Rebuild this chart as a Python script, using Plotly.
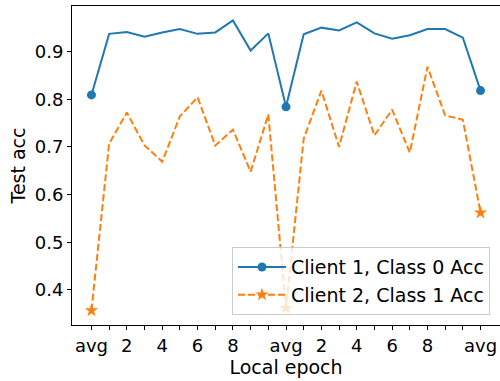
import plotly.graph_objects as go

# x index positions (avg, epochs 1..10, avg, epochs 1..10, avg)
x_idx = list(range(23))
tick_vals = list(range(23))
tick_text = ["avg", "", "2", "", "4", "", "6", "", "8", "", "",
             "avg", "", "2", "", "4", "", "6", "", "8", "", "", "avg"]
avg_idx = [0, 11, 22]

client1_class0 = [0.809, 0.937, 0.941, 0.931, 0.940, 0.947, 0.937, 0.940, 0.965, 0.902, 0.938,
                  0.784, 0.936, 0.950, 0.944, 0.961, 0.938, 0.927, 0.934, 0.947, 0.947, 0.929,
                  0.818]
client2_class1 = [0.357, 0.707, 0.772, 0.703, 0.669, 0.764, 0.804, 0.703, 0.736, 0.648, 0.768,
                  0.362, 0.717, 0.818, 0.700, 0.837, 0.724, 0.778, 0.688, 0.868, 0.766, 0.757,
                  0.562]

BLUE = "#1f77b4"
ORANGE = "#ff7f0e"
FONT = "DejaVu Sans"

fig = go.Figure()

# lines
fig.add_trace(go.Scatter(x=x_idx, y=client1_class0, mode="lines",
                         line=dict(color=BLUE, width=2), showlegend=False, hoverinfo="skip"))
fig.add_trace(go.Scatter(x=x_idx, y=client2_class1, mode="lines",
                         line=dict(color=ORANGE, width=2, dash="7px,3px"), showlegend=False, hoverinfo="skip"))
# markers at avg points
fig.add_trace(go.Scatter(x=[x_idx[i] for i in avg_idx], y=[client1_class0[i] for i in avg_idx],
                         mode="markers", marker=dict(color=BLUE, size=9, symbol="circle"),
                         showlegend=False))
fig.add_trace(go.Scatter(x=[x_idx[i] for i in avg_idx], y=[client2_class1[i] for i in avg_idx],
                         mode="markers", marker=dict(color=ORANGE, size=10, symbol="star"),
                         showlegend=False))
# legend entries
fig.add_trace(go.Scatter(x=[None], y=[None], mode="lines+markers", name="Client 1, Class 0 Acc",
                         line=dict(color=BLUE, width=2), marker=dict(color=BLUE, size=9, symbol="circle"),
                         legendgroup="a"))
fig.add_trace(go.Scatter(x=[None], y=[None], mode="lines+markers", name="Client 2, Class 1 Acc",
                         line=dict(color=ORANGE, width=2, dash="7px,3px"),
                         marker=dict(color=ORANGE, size=10, symbol="star"),
                         legendgroup="b"))

fig.update_layout(
    width=500, height=381,
    margin=dict(l=72, r=0, t=6, b=56),
    plot_bgcolor="white", paper_bgcolor="white",
    font=dict(family=FONT, size=18, color="black"),
    showlegend=True,
    legend=dict(x=0.9766, y=0.031, xanchor="right", yanchor="bottom",
                bgcolor="rgba(255,255,255,0.8)", bordercolor="#cccccc", borderwidth=1,
                font=dict(family=FONT, size=19), tracegroupgap=0, traceorder="grouped",
                itemwidth=48),
)
fig.update_xaxes(range=[-1.1, 23.1], tickmode="array", tickvals=tick_vals, ticktext=tick_text,
                 ticks="outside", ticklen=4, tickcolor="black", showgrid=False, zeroline=False,
                 showline=True, linecolor="black", linewidth=1, mirror=True, automargin=False,
                 title=dict(text="Local epoch", standoff=2, font=dict(size=19)), tickfont=dict(size=18))
fig.update_yaxes(range=[0.3266, 0.9954], tickmode="array", tickvals=[0.4, 0.5, 0.6, 0.7, 0.8, 0.9],
                 ticktext=["0.4", "0.5", "0.6", "0.7", "0.8", "0.9"],
                 ticks="outside", ticklen=4, tickcolor="black", showgrid=False, zeroline=False,
                 showline=True, linecolor="black", linewidth=1, mirror=True, automargin=False,
                 title=dict(text="Test acc", standoff=4, font=dict(size=19)), tickfont=dict(size=18))

fig.write_html("out.html", config={"displayModeBar": False},
               post_script="document.body.style.margin='0px';document.body.style.overflow='hidden';")
